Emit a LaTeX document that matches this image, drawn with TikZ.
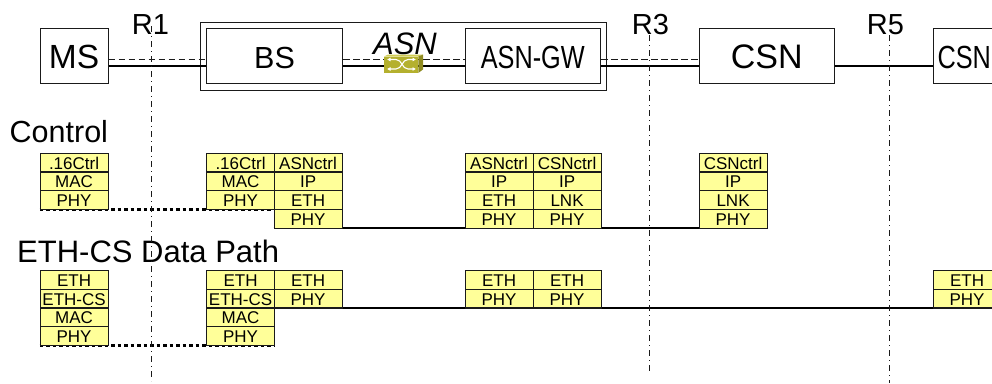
\documentclass[tikz,border=0pt]{standalone}
\usepackage{fontspec}
\setmainfont{Liberation Sans}
\usetikzlibrary{arrows.meta}
\pgfdeclarelayer{behind}
\pgfsetlayers{behind,main}
\newcommand{\fsz}[1]{\fontsize{#1}{#1}\selectfont}
\definecolor{stackfill}{HTML}{FFFF99}
\definecolor{inkc}{HTML}{1A1A1A}
\definecolor{olive}{HTML}{B4B02E}
\definecolor{olivetop}{HTML}{CFCB55}
\definecolor{oliveside}{HTML}{8F8B20}
\tikzset{
  x=1pt,y=-1pt,
  box/.style={draw=inkc,line width=1.1pt,fill=white,anchor=north west,inner sep=0pt,minimum height=55pt,text height=25pt,text depth=0pt},
  cell/.style={draw=inkc,line width=1.1pt,fill=stackfill,anchor=north west,inner sep=0pt,minimum width=68pt,minimum height=18.7pt,text height=15pt,text depth=2pt,font=\fsz{17}},
  title/.style={anchor=base west,inner sep=0pt},
  reflab/.style={anchor=base,inner sep=0pt,font=\fsz{29}},
  refline/.style={line width=1pt,draw=inkc,dash pattern=on 6pt off 4pt on 1pt off 4pt},
  dashlink/.style={line width=1.1pt,draw=inkc,dash pattern=on 6.5pt off 3.5pt},
  solidlink/.style={line width=2pt,draw=black},
  dotlink/.style={line width=3.6pt,draw=black,dash pattern=on 3.5pt off 3pt},
  baselink/.style={line width=2pt,draw=black},
  swarrow/.style={white,line width=1.1pt,{Latex[length=3.5pt,width=4pt]}-{Latex[length=3.5pt,width=4pt]}},
}
\newcommand{\cellat}[4]{\node[cell] (#1) at (#2,#3) {#4};}
\begin{document}
\begin{tikzpicture}
\useasboundingbox (0,0) rectangle (992,383);
\clip (0,0) rectangle (992,383);

% reference point lines
\node[reflab] (r1) at (150.5,34) {R1};
\node[reflab] (r3) at (650.5,34) {R3};
\node[reflab] (r5) at (885.5,34) {R5};
\coordinate (r1top) at (151,26);
\coordinate (r1bot) at (151,381);
\coordinate (r3top) at (649,35);
\coordinate (r3bot) at (649,373);
\coordinate (r5top) at (889,35);
\coordinate (r5bot) at (889,383);

% top row
\node[draw=inkc,line width=1.1pt,anchor=north west,minimum width=406pt,minimum height=67.5pt,inner sep=0pt] (asn) at (200,22) {};
\node[box,minimum width=68pt,font=\fsz{33.5}] (ms) at (39.5,28) {MS};
\node[box,minimum width=136pt,font=\fsz{30.5}] (bs) at (206,28) {BS};
\node[box,minimum width=135.5pt,font=\fsz{32}] (gw) at (464.5,28) {\scalebox{.79}[1]{ASN-GW}};
\node[box,minimum width=135.5pt,font=\fsz{34}] (csn) at (698.5,28) {CSN};
\node[box,minimum width=62pt,font=\fsz{32}] (csnb) at (932.7,28) {\scalebox{.79}[1]{CSN}};
\node[anchor=base,inner sep=0pt,font=\fsz{31}\itshape] (asnlab) at (405,54) {ASN};

\foreach \a/\b in {ms/bs,bs/gw,gw/csn}{
  \draw[dashlink] ([yshift=-3.5pt]\a.east) -- ([yshift=-3.5pt]\b.west);
  \draw[solidlink] ([yshift=-9.5pt]\a.east) -- ([yshift=-9.5pt]\b.west);
}
\draw[solidlink] ([yshift=-9.5pt]csn.east) -- ([yshift=-9.5pt]csnb.west);

% switch icon
\node[fill=olive,inner sep=0pt,minimum width=34pt,minimum height=16pt,anchor=north west] (sw) at (384,56.5) {};
\fill[olivetop] (sw.north west) -- (388,54.5) -- (423,54.5) -- (sw.north east) -- cycle;
\fill[oliveside] (sw.north east) -- (423,54.5) -- (423,69.5) -- (sw.south east) -- cycle;
\draw[swarrow] (387,59.5) -- (396,59.5) .. controls (402,59.5) and (402,69) .. (408,69) -- (416,69);
\draw[swarrow] (387,69) -- (396,69) .. controls (402,69) and (402,59.5) .. (408,59.5) -- (416,59.5);

% section titles
\node[title,font=\fsz{30.5}] (ctl) at (9.5,142) {Control};
\node[title,font=\fsz{31}] (eth) at (17,262) {ETH-CS Data Path};

% control stacks
\cellat{a1}{39.5}{152.7}{.16Ctrl}
\cellat{a2}{39.5}{171.4}{MAC}
\cellat{a3}{39.5}{190.1}{PHY}
\cellat{b1}{206}{152.7}{.16Ctrl}
\cellat{b2}{206}{171.4}{MAC}
\cellat{b3}{206}{190.1}{PHY}
\cellat{c1}{273.5}{152.7}{ASNctrl}
\cellat{c2}{273.5}{171.4}{IP}
\cellat{c3}{273.5}{190.1}{ETH}
\cellat{c4}{273.5}{208.8}{PHY}
\cellat{d1}{464.5}{152.7}{ASNctrl}
\cellat{d2}{464.5}{171.4}{IP}
\cellat{d3}{464.5}{190.1}{ETH}
\cellat{d4}{464.5}{208.8}{PHY}
\cellat{e1}{532.5}{152.7}{CSNctrl}
\cellat{e2}{532.5}{171.4}{IP}
\cellat{e3}{532.5}{190.1}{LNK}
\cellat{e4}{532.5}{208.8}{PHY}
\cellat{f1}{698.5}{152.7}{CSNctrl}
\cellat{f2}{698.5}{171.4}{IP}
\cellat{f3}{698.5}{190.1}{LNK}
\cellat{f4}{698.5}{208.8}{PHY}

% data path stacks
\cellat{g1}{39.5}{270}{ETH}
\cellat{g2}{39.5}{288.7}{ETH-CS}
\cellat{g3}{39.5}{307.4}{MAC}
\cellat{g4}{39.5}{326.1}{PHY}
\cellat{h1}{206}{270}{ETH}
\cellat{h2}{206}{288.7}{ETH-CS}
\cellat{h3}{206}{307.4}{MAC}
\cellat{h4}{206}{326.1}{PHY}
\cellat{i1}{273.5}{270}{ETH}
\cellat{i2}{273.5}{288.7}{PHY}
\cellat{j1}{464.5}{270}{ETH}
\cellat{j2}{464.5}{288.7}{PHY}
\cellat{k1}{532.5}{270}{ETH}
\cellat{k2}{532.5}{288.7}{PHY}
\cellat{l1}{932.5}{270}{ETH}
\cellat{l2}{932.5}{288.7}{PHY}

% stack links
\begin{pgfonlayer}{behind}
\draw[dotlink] ([yshift=.5pt]a3.south west) -- ([yshift=.5pt]b3.south east);
\draw[baselink] ([yshift=.5pt]c4.south west) -- ([yshift=.5pt]f4.south east);
\draw[dotlink] ([yshift=.5pt]g4.south west) -- ([yshift=.5pt]h4.south east);
\draw[baselink] ([yshift=.5pt]i2.south west) -- ([yshift=.5pt]l2.south east);
\end{pgfonlayer}

% dash-dot reference lines on top
\draw[refline] (r1top) -- (r1bot);
\draw[refline] (r3top) -- (r3bot);
\draw[refline] (r5top) -- (r5bot);
\end{tikzpicture}
\end{document}
